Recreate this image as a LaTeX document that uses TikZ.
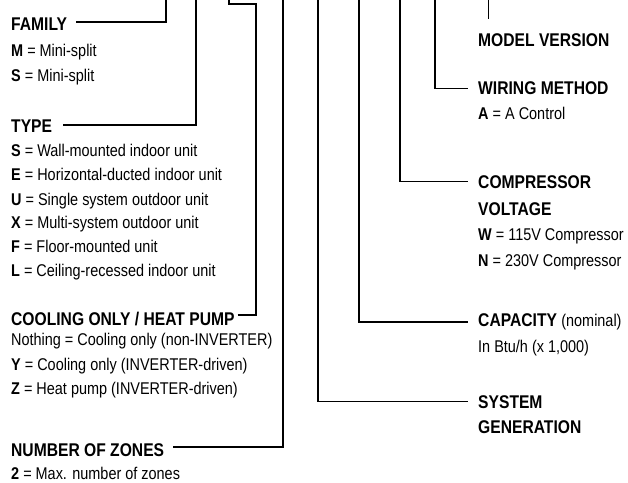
\documentclass[tikz,border=0pt]{standalone}
\usepackage{fontspec}
\setmainfont[FakeStretch=0.85]{Liberation Sans}
\newcommand{\hdsize}{\fontsize{18.4}{20}\selectfont\bfseries}
\newcommand{\bdsize}{\fontsize{17}{20}\selectfont}
\begin{document}
\begin{tikzpicture}[x=1pt, y=-1pt, line join=miter,
		head/.style={font=\hdsize, inner sep=0pt, anchor=base west},
		item/.style={font=\bdsize, inner sep=0pt, anchor=base west},
		lead/.style={line width=1.6pt}]
	\useasboundingbox (0,0) rectangle (628,482);
	\def\xl{11} \def\xr{478}
	% tops of the leader lines
	\foreach \n/\x in {t1/166, t2/196, t3/229, t4/283, t5/318, t6/359, t7/400, t8/435, t9/488} \coordinate (\n) at (\x,-2);
	\coordinate (k3) at (256,4);
	% headings
	\foreach \n/\x/\y/\t in {fam/\xl/30/FAMILY, typ/\xl/132.7/TYPE, col/\xl/325/{COOLING ONLY / HEAT PUMP}, zon/\xl/456/NUMBER OF ZONES,
		mod/\xr/46/MODEL VERSION, wir/\xr/94.3/WIRING METHOD, cmp/\xr/188.3/COMPRESSOR, vlt/\xr/215/VOLTAGE, sys/\xr/408.3/SYSTEM, gen/\xr/433.3/GENERATION}
		\node[head] (\n) at (\x,\y) {\t};
	\node[head] (cap) at (\xr,326.7) {CAPACITY {\bdsize\mdseries (nominal)}};
	% codes
	\foreach \y/\k/\t [count=\i] in {56.5/M/Mini-split, 81.5/S/Mini-split} \node[item] (fm\i) at (\xl,\y) {\textbf{\k} = \t};
	\foreach \y/\k/\t [count=\i] in {156.7/S/Wall-mounted indoor unit, 180.7/E/Horizontal-ducted indoor unit, 205/U/Single system outdoor unit,
		228.5/X/Multi-system outdoor unit, 252/F/Floor-mounted unit, 276/L/Ceiling-recessed indoor unit} \node[item] (ty\i) at (\xl,\y) {\textbf{\k} = \t};
	\node[item] (cl1) at (\xl,345.5) {Nothing = Cooling only (non-INVERTER)};
	\foreach \y/\k/\t [count=\i from 2] in {370/Y/Cooling only (INVERTER-driven), 394.3/Z/Heat pump (INVERTER-driven)} \node[item] (cl\i) at (\xl,\y) {\textbf{\k} = \t};
	\node[item] (zn1) at (\xl,479.5) {\textbf{2} = Max. number of zones};
	\node[item] (wr1) at (\xr,119.5) {\textbf{A} = A Control};
	\foreach \y/\k/\t [count=\i] in {240.5/W/115V Compressor, 266.5/N/230V Compressor} \node[item] (vt\i) at (\xr,\y) {\textbf{\k} = \t};
	\node[item] (cp1) at (\xr,352.5) {In Btu/h (x 1,000)};
	% leaders
	\draw[lead] ([shift={(9,-8)}]fam.base east) -| (t1);
	\draw[lead] ([shift={(11,-8)}]typ.base east) -| (t2);
	\draw[lead] ([shift={(3,-10)}]col.base east) -| (k3) -| (t3);
	\draw[lead] ([shift={(9,-9)}]zon.base east) -| (t4);
	\draw[lead] (t5) |- ([shift={(-10,-7)}]sys.base west);
	\draw[lead] (t6) |- ([shift={(-10,-5)}]cap.base west);
	\draw[lead] (t7) |- ([shift={(-10,-7)}]cmp.base west);
	\draw[lead] (t8) |- ([shift={(-10,-6)}]wir.base west);
	\draw[line width=1pt] (t9) -- ([shift={(10,-27)}]mod.base west);
\end{tikzpicture}
\end{document}
